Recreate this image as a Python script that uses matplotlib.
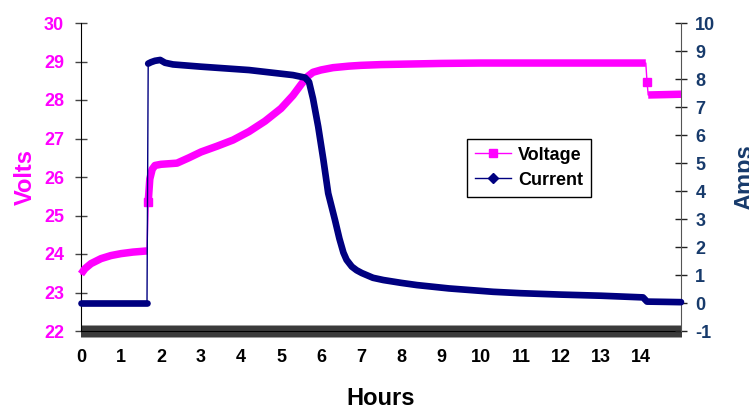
import numpy as np
import matplotlib
matplotlib.use("Agg")
import matplotlib.pyplot as plt
from matplotlib.lines import Line2D

# ---------------- data ----------------
volt_hours = [0, 0.1, 0.25, 0.5, 0.75, 1.0, 1.3, 1.65,
              1.68,
              1.72, 1.78, 1.85, 2.0, 2.4, 2.7, 3.0, 3.4, 3.8, 4.2, 4.6, 5.0,
              5.3, 5.5, 5.65, 5.8, 6.0, 6.3, 6.7, 7.0, 7.5, 8.0, 9.0, 10.0,
              11.0, 12.0, 13.0, 14.12,
              14.15,
              14.18, 14.6, 15.0]
volt_values = [23.48, 23.62, 23.75, 23.88, 23.96, 24.01, 24.05, 24.08,
               25.35,
               25.95, 26.2, 26.3, 26.33, 26.36, 26.5, 26.65, 26.8, 26.96, 27.18, 27.45, 27.78,
               28.12, 28.4, 28.6, 28.72, 28.78, 28.84, 28.88, 28.9, 28.92, 28.93, 28.95, 28.96,
               28.96, 28.96, 28.96, 28.96,
               28.48,
               28.13, 28.14, 28.15]
# index ranges of the continuous (densely sampled) stretches, and lone samples
volt_runs = [(0, 7), (8, 36), (38, 40)]
volt_lone = [8, 37]

curr_hours = [0, 1.65,
              1.68, 1.75, 1.85, 1.98, 2.1, 2.3, 3.0, 4.2, 5.3, 5.6, 5.7, 5.8,
              5.93, 6.06, 6.18, 6.35, 6.46, 6.56, 6.64, 6.77, 6.89, 7.02, 7.3,
              7.56, 8.0, 8.4, 9.2, 10.3, 11.0, 12.0, 13.0, 14.05, 14.15, 14.6, 15.0]
curr_values = [0, 0,
               8.55, 8.6, 8.65, 8.68, 8.58, 8.52, 8.44, 8.32, 8.14, 8.05, 7.9, 7.3,
               6.3, 5.11, 3.92, 2.96, 2.3, 1.8, 1.54, 1.3, 1.17, 1.07, 0.9,
               0.82, 0.72, 0.64, 0.52, 0.4, 0.35, 0.3, 0.26, 0.2, 0.05, 0.04, 0.03]
curr_runs = [(0, 1), (2, 36)]

hour_ticks = list(range(0, 15))
volt_ticks = list(range(22, 31))
amp_ticks = list(range(-1, 11))

# ---------------- style ----------------
MAGENTA = "#FF00FF"
NAVY = "#000080"
RIGHT_LBL = "#173A6B"
plt.rcParams["font.family"] = ["Liberation Sans", "DejaVu Sans"]
plt.rcParams["font.weight"] = "bold"
plt.rcParams["axes.unicode_minus"] = False

fig = plt.figure(figsize=(7.49, 4.12), dpi=100)
ax = fig.add_axes([81 / 749, 1 - 331 / 412, 600 / 749, 308 / 412])
ax2 = ax.twinx()

vh = np.array(volt_hours); vv = np.array(volt_values)
ch = np.array(curr_hours); cv = np.array(curr_values)

# voltage
ax.plot(vh, vv, color=MAGENTA, lw=1.0, marker="s", ms=5.8, mec=MAGENTA,
        mfc=MAGENTA, markevery=volt_lone, zorder=3, clip_on=False)
for a, b in volt_runs:
    ax.plot(vh[a:b + 1], vv[a:b + 1], color=MAGENTA, lw=5.4,
            solid_capstyle="butt", solid_joinstyle="round", zorder=3, clip_on=False)

# current
ax2.plot(ch, cv, color=NAVY, lw=1.0, zorder=3, clip_on=False)
for a, b in curr_runs:
    ax2.plot(ch[a:b + 1], cv[a:b + 1], color=NAVY, lw=4.8,
             solid_capstyle="round", solid_joinstyle="round", zorder=3, clip_on=False)

# axes limits
ax.set_xlim(0, 15)
ax.set_ylim(22, 30)
ax2.set_ylim(-1, 10)

# spines
ax.spines["top"].set_visible(False)
ax2.spines["top"].set_visible(False)
ax.spines["right"].set_visible(False)
ax2.spines["left"].set_visible(False)
ax2.spines["bottom"].set_visible(False)
ax.spines["left"].set_color("black")
ax.spines["bottom"].set_color("black")
ax2.spines["right"].set_color("#555555")

# x ticks: labelled hours plus dense sample ticks
ax.set_xticks(hour_ticks)
ax.set_xticklabels([str(h) for h in hour_ticks])
ax.set_xticks(np.arange(0, 15.0001, 1 / 40), minor=True)
ax.tick_params(axis="x", which="both", direction="inout", length=8.6,
               width=0.55, color="black")
ax.tick_params(axis="x", which="major", labelsize=13, pad=8.5, labelcolor="black")

# y ticks
ax.set_yticks(volt_ticks)
ax.tick_params(axis="y", direction="inout", length=8.6, width=1.0,
               color="#444444", labelsize=13, labelcolor=MAGENTA, pad=8)
ax2.set_yticks(amp_ticks)
ax2.tick_params(axis="y", direction="inout", length=8.6, width=1.0,
                color="#222222", labelsize=13, labelcolor=RIGHT_LBL, pad=6)

# labels
ax.set_xlabel("Hours", fontsize=17, fontweight="bold", labelpad=15)
ax.set_ylabel("Volts", fontsize=17, fontweight="bold", color=MAGENTA, labelpad=5)
ax2.set_ylabel("Amps", fontsize=17, fontweight="bold", color=RIGHT_LBL, labelpad=13)

# legend
handles = [Line2D([], [], color=MAGENTA, lw=1, marker="s", ms=6),
           Line2D([], [], color=NAVY, lw=1, marker="D", ms=5)]
leg = ax2.legend(handles, ["Voltage", "Current"], loc="upper left",
                 bbox_to_anchor=(0.643, 0.625), frameon=True, fancybox=False,
                 framealpha=1, edgecolor="black", fontsize=13,
                 handlelength=2.0, handletextpad=0.4, borderpad=0.45,
                 labelspacing=0.45, borderaxespad=0)
leg.get_frame().set_linewidth(1.0)

fig.savefig("out.png", dpi=100)
